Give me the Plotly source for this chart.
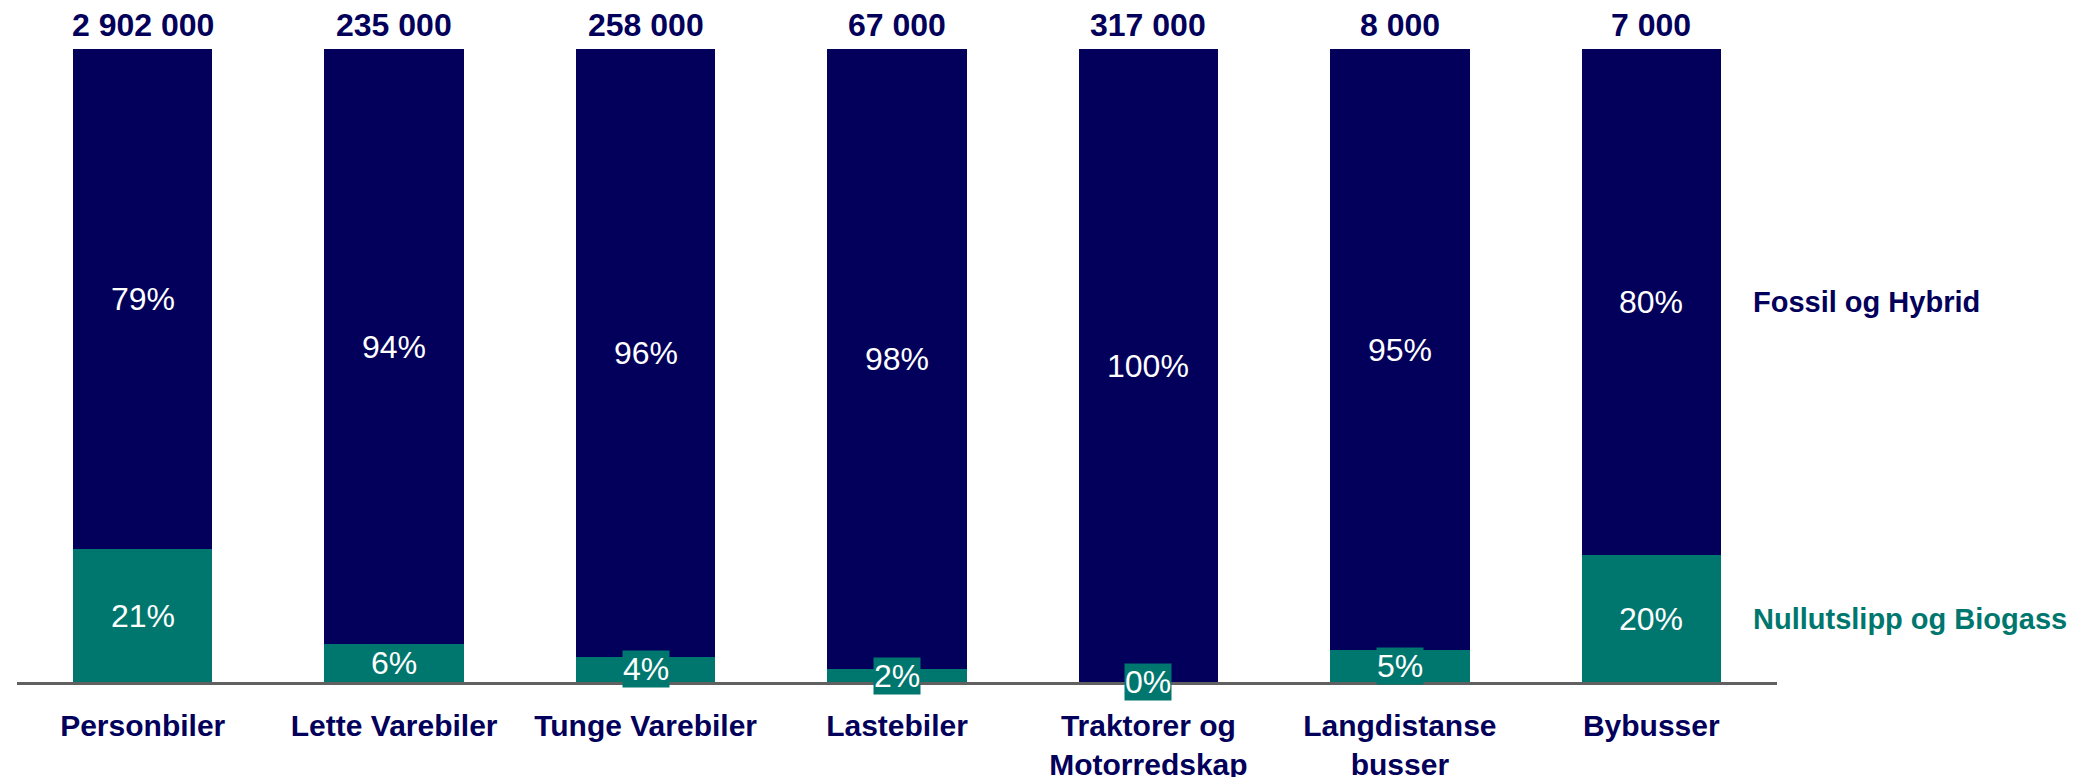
import plotly.graph_objects as go

categories = ["Personbiler", "Lette Varebiler", "Tunge Varebiler", "Lastebiler",
              "Traktorer og<br>Motorredskap", "Langdistanse<br>busser", "Bybusser"]
totals = [2902000, 235000, 258000, 67000, 317000, 8000, 7000]
nullutslipp = [21, 6, 4, 2, 0, 5, 20]
fossil = [79, 94, 96, 98, 100, 95, 80]
series_names = ["Nullutslipp og Biogass", "Fossil og Hybrid"]

NAVY = "#02005A"
GREEN = "#00776E"
FONT = "Liberation Sans, Arial, sans-serif"

fig = go.Figure()
fig.add_trace(go.Bar(x=categories, y=nullutslipp, name=series_names[0],
                     marker=dict(color=GREEN, line=dict(width=0)), width=0.555))
fig.add_trace(go.Bar(x=categories, y=fossil, name=series_names[1],
                     marker=dict(color=NAVY, line=dict(width=0)), width=0.555))

annotations = []
for i, cat in enumerate(categories):
    g = nullutslipp[i]
    f = fossil[i]
    annotations.append(dict(x=cat, y=g / 2, text=f"{g}%", showarrow=False,
                            font=dict(family=FONT, size=32, color="white"),
                            bgcolor=GREEN, borderpad=0, xanchor="center", yanchor="middle"))
    annotations.append(dict(x=cat, y=g + f / 2, text=f"{f}%", showarrow=False,
                            font=dict(family=FONT, size=32, color="white"),
                            xanchor="center", yanchor="middle"))
    annotations.append(dict(x=cat, y=1, yref="paper", text=f"{totals[i]:,}".replace(",", " "),
                            showarrow=False, yanchor="middle", yshift=24,
                            font=dict(family=FONT, size=32, color=NAVY, weight="bold")))

last = len(categories) - 1
annotations.append(dict(x=categories[last], y=nullutslipp[last] + fossil[last] / 2,
                        text=series_names[1], showarrow=False, xanchor="left", xshift=100,
                        font=dict(family=FONT, size=29, color=NAVY, weight="bold")))
annotations.append(dict(x=categories[last], y=nullutslipp[last] / 2,
                        text=series_names[0], showarrow=False, xanchor="left", xshift=100,
                        font=dict(family=FONT, size=29, color=GREEN, weight="bold")))

fig.update_layout(
    barmode="stack",
    width=2087, height=777,
    margin=dict(l=9, r=318, t=41, b=103),
    plot_bgcolor="white", paper_bgcolor="white",
    showlegend=False,
    annotations=annotations,
    xaxis=dict(range=[-0.5, 6.5], showgrid=False, zeroline=False,
               showline=True, linecolor="#606060", linewidth=3,
               ticks="", ticklabelstandoff=15, automargin=False,
               tickfont=dict(family=FONT, size=30, color=NAVY, weight="bold")),
    yaxis=dict(range=[0, 100], visible=False, showgrid=False, zeroline=False,
               automargin=False),
)

fig.write_html("out.html")
